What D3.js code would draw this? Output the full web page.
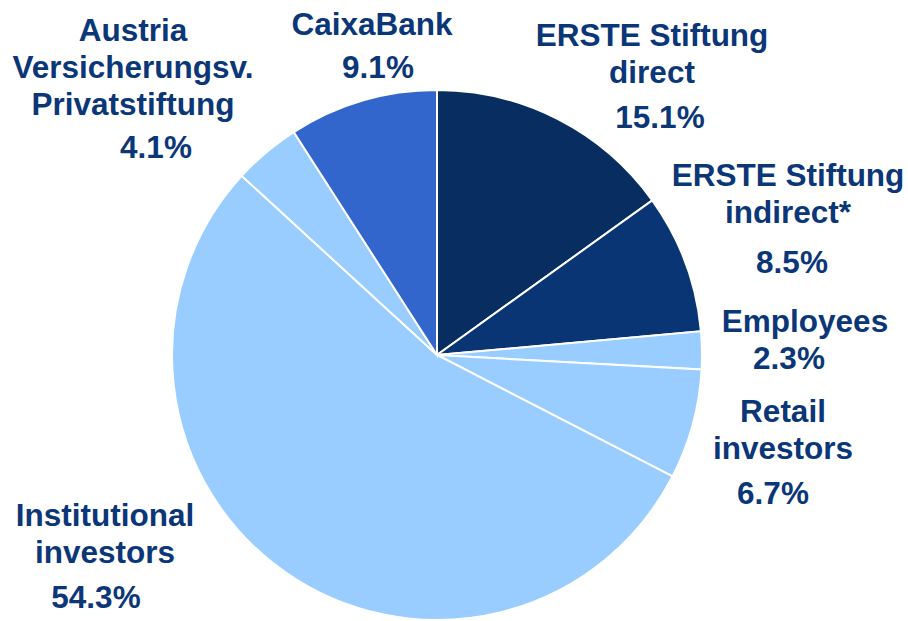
<!DOCTYPE html>
<html>
<head>
<meta charset="utf-8">
<script src="https://cdn.jsdelivr.net/npm/d3@7"></script>
<style>
  body { margin: 0; background: #fff; }
  svg { display: block; }
  text { font-family: "Liberation Sans", Arial, sans-serif; font-weight: bold; fill: #0b3677; }
</style>
</head>
<body>
<div id="chart"></div>
<script>
// shareholder structure, clockwise from 12 o'clock
const names = ['ERSTE Stiftung direct', 'ERSTE Stiftung indirect*', 'Employees', 'Retail investors',
  'Institutional investors', 'Austria Versicherungsv. Privatstiftung', 'CaixaBank'];
const shares = [15.1, 8.5, 2.3, 6.7, 54.3, 4.1, 9.1];
const colors = ['#082d61', '#0a3575', '#99ccff', '#99ccff', '#99ccff', '#99ccff', '#3366cc'];

// label text lines per slice
const labelLines = [
  ['ERSTE Stiftung', 'direct'],
  ['ERSTE Stiftung', 'indirect*'],
  ['Employees'],
  ['Retail', 'investors'],
  ['Institutional', 'investors'],
  ['Austria', 'Versicherungsv.', 'Privatstiftung'],
  ['CaixaBank']
];

const width = 908, height = 621;
const cx = 437, cy = 355, radius = 265;

const svg = d3.select('#chart').append('svg')
  .attr('width', width)
  .attr('height', height);

const pie = d3.pie().sort(null).value(d => d)(shares);
const arc = d3.arc().innerRadius(0).outerRadius(radius);

const g = svg.append('g').attr('transform', 'translate(' + cx + ',' + cy + ')');

g.selectAll('path')
  .data(pie)
  .enter().append('path')
  .attr('d', arc)
  .attr('fill', (d, i) => colors[i])
  .attr('stroke', '#fff')
  .attr('stroke-width', 2);

// label anchor (center x, first line middle y), percentage x and extra gap before it
const labelPos = [
  {x: 652, y: 35, px: 660, gap: 8},
  {x: 788, y: 175, px: 792, gap: 13},
  {x: 805, y: 321, px: 789, gap: 0},
  {x: 783, y: 411, px: 773, gap: 8},
  {x: 105, y: 515, px: 96, gap: 8},
  {x: 133, y: 30, px: 156, gap: 6},
  {x: 372, y: 24, px: 378, gap: 6}
];
const lineH = 37;

labelLines.forEach((lines, i) => {
  const p = labelPos[i];
  const t = svg.append('text')
    .attr('text-anchor', 'middle')
    .attr('font-size', 31.5);
  lines.forEach((l, j) => {
    t.append('tspan')
      .attr('x', p.x)
      .attr('y', p.y + j * lineH)
      .attr('dy', '0.36em')
      .text(l);
  });
  t.append('tspan')
    .attr('x', p.px)
    .attr('y', p.y + lines.length * lineH + p.gap)
    .attr('dy', '0.36em')
    .text(shares[i].toFixed(1) + '%');
});
</script>
</body>
</html>
